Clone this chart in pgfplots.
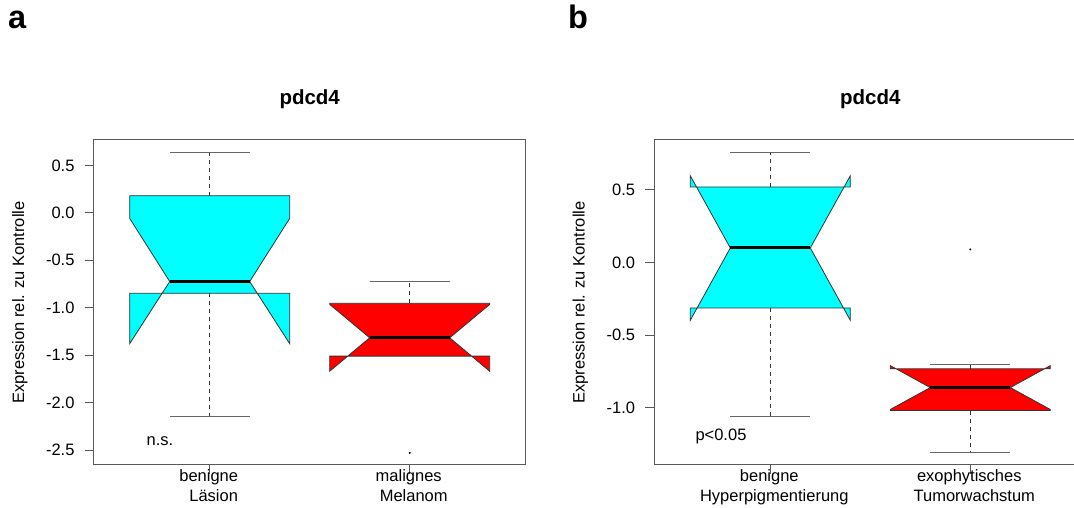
\documentclass[border=0pt]{standalone}
\usepackage{pgfplots}
\pgfplotsset{compat=1.18}
\usepackage{fontspec}
\setmainfont{Liberation Sans}

\definecolor{boxcyan}{RGB}{0,255,255}
\definecolor{boxred}{RGB}{255,0,0}

\newcommand{\lblfont}{\fontsize{16.5}{20}\selectfont}
\newcommand{\ttlfont}{\fontsize{20.5}{24}\selectfont\bfseries}
\newcommand{\panelfont}{\fontsize{32.5}{36}\selectfont\bfseries}

\pgfplotsset{
  rbox/.style={
    scale only axis, width=432pt, height=325pt, anchor=south west,
    xmin=0.42, xmax=2.58, xtick={1,2},
    tick align=outside, major tick length=9pt,
    xtick pos=bottom, ytick pos=left,
    axis line style={black!65, line width=1pt},
    tick style={black!65, line width=1pt},
    ticklabel style={font=\lblfont},
    xticklabel style={align=center, inner sep=0pt, yshift=5pt},
    yticklabel style={inner sep=0pt, xshift=-10pt},
    every axis y label/.style={at={(axis description cs:-0.171,0.5)},
      rotate=90, anchor=center, font=\lblfont},
    clip=false,
  },
  notchbox/.style={draw=black!80, line width=0.8pt, fill=#1},
  whisk/.style={black!80, line width=0.8pt, dash pattern=on 4pt off 4pt},
  staple/.style={black!60, line width=1pt},
  median/.style={black, line width=3pt},
  outl/.style={only marks, mark=*, mark size=0.8pt, black},
}

\begin{document}
\begin{tikzpicture}
\useasboundingbox (0pt,0pt) rectangle (1074pt,508pt);
\clip (0pt,0pt) rectangle (1074pt,508pt);

\node[anchor=base west, font=\panelfont, inner sep=0pt] at (8pt,479pt) {a};
\node[anchor=base west, font=\panelfont, inner sep=0pt] at (568pt,479pt) {b};

% ---------- panel a ----------
\begin{axis}[rbox, at={(93.7pt,43pt)},
  ymin=-2.657, ymax=0.767,
  ytick={-2.5,-2,-1.5,-1,-0.5,0,0.5},
  yticklabels={-2.5,-2.0,-1.5,-1.0,-0.5,0.0,0.5},
  xticklabels={{benigne\hspace*{2pt}\\\hspace*{8pt}Läsion},{malignes\hspace*{2pt}\\\hspace*{8pt}Melanom}},
  ylabel={Expression rel. zu Kontrolle}]
% benigne Läsion
\addplot[notchbox=boxcyan] coordinates {(0.6,-0.848) (1.4,-0.848) (1.4,-1.379) (1.2,-0.724) (1.4,-0.059) (1.4,0.18) (0.6,0.18) (0.6,-0.059) (0.8,-0.724) (0.6,-1.379)} -- cycle;
\addplot[median] coordinates {(0.8,-0.724) (1.2,-0.724)};
\addplot[whisk] coordinates {(1,0.18) (1,0.64)};
\addplot[whisk] coordinates {(1,-0.848) (1,-2.145)};
\addplot[staple] coordinates {(0.8,0.64) (1.2,0.64)};
\addplot[staple] coordinates {(0.8,-2.145) (1.2,-2.145)};
% malignes Melanom
\addplot[notchbox=boxred] coordinates {(1.6,-1.51) (2.4,-1.51) (2.4,-1.669) (2.2,-1.317) (2.4,-0.965) (2.4,-0.954) (1.6,-0.954) (1.6,-0.965) (1.8,-1.317) (1.6,-1.669)} -- cycle;
\addplot[median] coordinates {(1.8,-1.317) (2.2,-1.317)};
\addplot[whisk] coordinates {(2,-0.954) (2,-0.724)};
\addplot[staple] coordinates {(1.8,-0.724) (2.2,-0.724)};
\addplot[outl] coordinates {(2,-2.53)};
\node[anchor=base, font=\ttlfont] at (axis description cs:0.5,1.1077) {pdcd4};
\node[anchor=base west, font=\lblfont, inner sep=0pt] at (axis cs:0.6835,-2.45) {n.s.};
\end{axis}

% ---------- panel b ----------
\begin{axis}[rbox, at={(654.3pt,43pt)},
  ymin=-1.394, ymax=0.843,
  ytick={-1,-0.5,0,0.5},
  yticklabels={-1.0,-0.5,0.0,0.5},
  xticklabels={{benigne\hspace*{2pt}\\\hspace*{8pt}Hyperpigmentierung},{exophytisches\hspace*{2pt}\\\hspace*{8pt}Tumorwachstum}},
  ylabel={Expression rel. zu Kontrolle}]
% benigne Hyperpigmentierung
\addplot[notchbox=boxcyan] coordinates {(0.6,-0.313) (1.4,-0.313) (1.4,-0.398) (1.2,0.10) (1.4,0.597) (1.4,0.52) (0.6,0.52) (0.6,0.597) (0.8,0.10) (0.6,-0.398)} -- cycle;
\addplot[median] coordinates {(0.8,0.10) (1.2,0.10)};
\addplot[whisk] coordinates {(1,0.52) (1,0.76)};
\addplot[whisk] coordinates {(1,-0.313) (1,-1.06)};
\addplot[staple] coordinates {(0.8,0.76) (1.2,0.76)};
\addplot[staple] coordinates {(0.8,-1.06) (1.2,-1.06)};
% exophytisches Tumorwachstum
\addplot[notchbox=boxred] coordinates {(1.6,-1.019) (2.4,-1.019) (2.4,-1.012) (2.2,-0.861) (2.4,-0.71) (2.4,-0.732) (1.6,-0.732) (1.6,-0.71) (1.8,-0.861) (1.6,-1.012)} -- cycle;
\addplot[median] coordinates {(1.8,-0.861) (2.2,-0.861)};
\addplot[whisk] coordinates {(2,-0.732) (2,-0.702)};
\addplot[whisk] coordinates {(2,-1.019) (2,-1.311)};
\addplot[staple] coordinates {(1.8,-0.702) (2.2,-0.702)};
\addplot[staple] coordinates {(1.8,-1.311) (2.2,-1.311)};
\addplot[outl] coordinates {(2,0.09)};
\node[anchor=base, font=\ttlfont] at (axis description cs:0.5,1.1077) {pdcd4};
\node[anchor=base west, font=\lblfont, inner sep=0pt] at (axis cs:0.625,-1.225) {p<0.05};
\end{axis}
\end{tikzpicture}
\end{document}
